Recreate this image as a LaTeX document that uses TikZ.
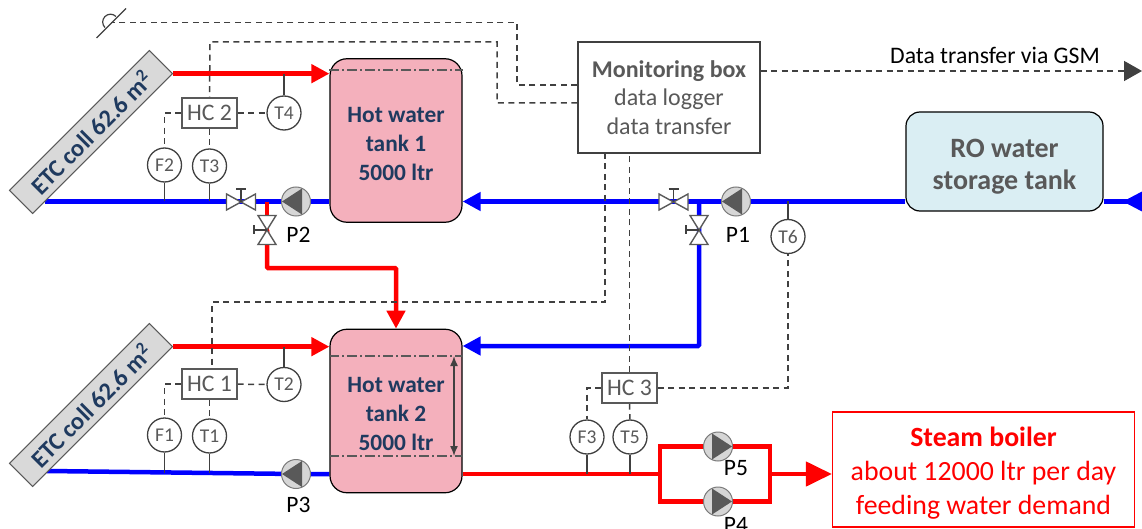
\documentclass[tikz,border=0pt]{standalone}
\usepackage{fontspec}
\setmainfont{Carlito}
\usetikzlibrary{arrows.meta,backgrounds,calc}
\definecolor{tankpink}{HTML}{F4B0BC}
\definecolor{tanktext}{HTML}{1F3A5F}
\definecolor{ctrlgrey}{HTML}{404040}
\definecolor{instgrey}{HTML}{595959}
\definecolor{robg}{HTML}{DAEEF3}
\newcommand{\lift}[1]{\rule{0pt}{#1}}
\tikzset{
  x=1pt,y=-1pt,
  coll/.style={draw=instgrey,line width=1pt,fill=black!15,rotate=45,minimum width=197.7pt,minimum height=32.7pt,inner sep=0pt,text=tanktext,font=\fontsize{24.5}{28}\selectfont\bfseries},
  tank/.style={draw=black,line width=1.2pt,fill=tankpink,rounded corners=17pt,minimum width=132pt,minimum height=163.5pt,inner sep=0pt,align=center,text=tanktext,font=\fontsize{23.4}{29}\selectfont\bfseries},
  inst/.style={circle,draw=ctrlgrey,line width=1.3pt,fill=white,minimum size=34pt,inner sep=0pt,text=instgrey,font=\fontsize{19.5}{22}\selectfont},
  hc/.style={draw=instgrey,line width=1.3pt,fill=white,minimum width=55pt,minimum height=30pt,inner sep=0pt,text=instgrey,font=\fontsize{23.7}{26}\selectfont},
  plabel/.style={inner sep=0pt,font=\fontsize{23.5}{26}\selectfont},
  pipered/.style={draw=red,line width=4.5pt,line join=miter},
  pipeblue/.style={draw=blue,line width=4.5pt,line join=miter},
  tipr/.style={-{Triangle[length=18pt,width=18pt,fill=red]}},
  tipb/.style={-{Triangle[length=18pt,width=18pt,fill=blue]}},
  ctrl/.style={draw=ctrlgrey,line width=1.5pt,dash pattern=on 6pt off 4.5pt},
  stem/.style={draw=ctrlgrey,line width=1.4pt},
  level/.style={draw=instgrey,line width=1.3pt,dash pattern=on 10pt off 3pt on 2pt off 3pt},
  pumpbody/.style={circle,draw=instgrey!80,line width=1pt,fill=black!16,minimum size=29pt,inner sep=0pt},
  valve/.style={draw=instgrey,line width=1.4pt,fill=white,line join=miter},
}
\newcommand{\pumpleft}[2]{\node[pumpbody] (#1) at (#2) {};
  \fill[instgrey] ($(#1)+(-14,0)$) -- ($(#1)+(6,-13)$) -- ($(#1)+(6,13)$) -- cycle;}
\newcommand{\pumpright}[2]{\node[pumpbody] (#1) at (#2) {};
  \fill[instgrey] ($(#1)+(14,0)$) -- ($(#1)+(-6,-13)$) -- ($(#1)+(-6,13)$) -- cycle;}
\newcommand{\valveh}[2]{\coordinate (#1) at (#2);
  \draw[valve] ($(#1)+(-14.5,-8)$) -- (#1) -- ($(#1)+(-14.5,8)$) -- cycle;
  \draw[valve] ($(#1)+(14.5,-8)$) -- (#1) -- ($(#1)+(14.5,8)$) -- cycle;
  \draw[stem] (#1) -- ($(#1)+(0,-13)$) ($(#1)+(-5,-13)$) -- ($(#1)+(5,-13)$);}
\newcommand{\valvev}[2]{\coordinate (#1) at (#2);
  \draw[valve] ($(#1)+(-9,-14.5)$) -- (#1) -- ($(#1)+(9,-14.5)$) -- cycle;
  \draw[valve] ($(#1)+(-9,14.5)$) -- (#1) -- ($(#1)+(9,14.5)$) -- cycle;
  \draw[stem] (#1) -- ($(#1)+(-13,0)$) ($(#1)+(-13,-4.5)$) -- ($(#1)+(-13,4.5)$);}
\begin{document}
\begin{tikzpicture}
\useasboundingbox (0,0) rectangle (1142,529);
% main equipment
\node[coll] (coll1) at (91,132) {ETC coll 62.6 m\textsuperscript{2}};
\node[coll] (coll2) at (91,405) {ETC coll 62.6 m\textsuperscript{2}};
\node[tank] (tank1) at (396,140.5) {\lift{23pt}Hot water\\tank 1\\5000 ltr};
\node[tank] (tank2) at (396,411) {\lift{22pt}Hot water\\tank 2\\5000 ltr};
\node[draw=ctrlgrey,line width=1.3pt,fill=white,minimum width=182pt,minimum height=111pt,inner sep=0pt,align=center,text=instgrey,font=\fontsize{24}{28.5}\selectfont] (mon) at (669,97.5) {\textbf{Monitoring box}\\data logger\\data transfer};
\node[draw=black,line width=1.2pt,fill=robg,rounded corners=14pt,minimum width=197pt,minimum height=99pt,inner sep=0pt,align=center,text=instgrey,font=\fontsize{28}{32}\selectfont\bfseries] (ro) at (1004.5,161.5) {\lift{28pt}RO water\\storage tank};
\node[draw=red,line width=1.2pt,fill=white,minimum width=302pt,minimum height=115pt,inner sep=0pt,align=center,text=red,font=\fontsize{27.8}{34}\selectfont] (boiler) at (983.5,469.5) {\lift{27pt}\textbf{Steam boiler}\\about 12000 ltr per day\\feeding water demand};
% instruments
\node[hc] (hc2) at (209.5,113) {HC 2};
\node[hc] (hc1) at (209.5,384) {HC 1};
\node[hc] (hc3) at (629.5,388) {HC 3};
\node[inst] (t4) at (284,113) {T4};
\node[inst] (f2) at (164.5,165) {F2};
\node[inst] (t3) at (209.5,166) {T3};
\node[inst] (t2) at (284,384.5) {T2};
\node[inst] (f1) at (164.5,435) {F1};
\node[inst] (t1) at (209.5,436) {T1};
\node[inst] (f3) at (587,437) {F3};
\node[inst] (t5) at (630,437) {T5};
\node[inst] (t6) at (788,236.5) {T6};
% pumps and valves
\pumpleft{p2}{296,201.5}
\pumpleft{p1}{736,201.5}
\pumpleft{p3}{296,474}
\pumpright{p5}{718,446.5}
\pumpright{p4}{718,501.5}
\valveh{v2h}{241,202}
\valvev{v2v}{267,230}
\valveh{v1h}{673.5,202}
\valvev{v1v}{699,230}
% labels
\node[plabel] at (298.5,235) {P2};
\node[plabel] at (738,235) {P1};
\node[plabel] at (298.5,505) {P3};
\node[plabel] at (736,468) {P5};
\node[plabel] at (736,525) {P4};
\node[inner sep=0pt,font=\fontsize{23.7}{26}\selectfont] at (995,55.5) {Data transfer via GSM};
% free ends
\coordinate (inlet) at (1142,201.5);
\coordinate (gsm) at (1142,71);
\coordinate (sensor) at (111,22.5);
\coordinate (c1low) at (44.5,201.5);
\coordinate (c2low) at (47,471);
% sensor symbol
\draw[stem] ($(sensor)+(-14.5,15.5)$) -- ($(sensor)+(15,-14)$);
\draw[stem,line width=1.2pt] ($(sensor)+(5,-6)$) arc[start angle=-45,end angle=-225,radius=7.8];
% level lines in tanks
\draw[level] (tank1.west |- 0,70) -- (tank1.east |- 0,70);
\draw[level] (tank2.west |- 0,356) -- (tank2.east |- 0,356);
\draw[level] (tank2.west |- 0,456) -- (tank2.east |- 0,456);
\draw[ctrlgrey,line width=1.5pt,{Latex[length=10pt,width=8pt]}-{Latex[length=10pt,width=8pt]}] (454,356) -- (454,456);
\begin{scope}[on background layer]
% pipes
\draw[pipered,tipr] (coll1.south east) -- (tank1.west |- coll1.south east);
\draw[pipered,tipr] (coll2.south east) -- (tank2.west |- coll2.south east);
\draw[pipeblue] (c1low) -- (tank1.west |- c1low);
\draw[pipeblue] (c2low) -- (p3.center) -- (tank2.west |- p3);
\draw[pipered] (v2h -| v2v) -- (v2v);
\draw[pipered,tipr,rounded corners=1pt] (v2v) -- (267,268) -- (396,268) -- (tank2.north);
\draw[pipeblue,tipb] (ro.west |- inlet) -- (tank1.east |- inlet);
\draw[pipeblue,tipb,rounded corners=1pt] (v1h -| v1v) -- (699,346) -- (tank2.east |- 0,346);
\draw[pipeblue] (ro.east |- inlet) -- (inlet);
\draw[pipered] (tank2.east |- p3) -- (660,474);
\draw[pipered] (p5.center) -- (660,446.5) -- (660,501.5) -- (p4.center);
\draw[pipered] (p5.center) -- (770,446.5) -- (770,501.5) -- (p4.center);
\draw[pipered,-{Triangle[length=26pt,width=24pt,fill=red]}] (770,474) -- (boiler.west |- 0,474);
% stems
\draw[stem] (t4) -- (t4 |- coll1.south east);
\draw[stem] (t2) -- (t2 |- coll2.south east);
\draw[stem] (f2) -- (f2 |- c1low);
\draw[stem] (t3) -- (t3 |- c1low);
\draw[stem] (f1) -- (164.5,472.5);
\draw[stem] (t1) -- (209.5,473);
\draw[stem] (f3) -- (f3 |- p3);
\draw[stem] (t5) -- (t5 |- p3);
\draw[stem] (t6) -- (t6 |- inlet);
% control lines
\draw[ctrl] (hc2) -- (t4);
\draw[ctrl] (hc2.west) -| (f2.north);
\draw[ctrl] (hc2) -- (t3);
\draw[ctrl] (hc1) -- (t2);
\draw[ctrl] (hc1.west) -| (f1.north);
\draw[ctrl] (hc1) -- (t1);
\draw[ctrl] (hc3.west) -| (f3.north);
\draw[ctrl] (hc3) -- (t5);
\draw[ctrl] (hc3.east) -| (t6.south);
\draw[ctrl] (hc3.north) -- (hc3.north |- mon.south);
\draw[ctrl] (605,153) -- (605,302) -- (212,302) -- (212,369);
\draw[ctrl] (mon.west |- 0,103) -- (497,103) -- (497,42) -- (210,42) -- (hc2.north);
\draw[ctrl] (mon.west |- 0,85) -- (517,85) -- (517,22.5) -- (sensor);
\end{scope}
\draw[ctrl,-{Triangle[length=18pt,width=20pt,fill=ctrlgrey]}] (mon.east |- gsm) -- (gsm);
\fill[blue] (1123,201.5) -- (1142,191.5) -- (1142,211.5) -- cycle;
\end{tikzpicture}
\end{document}
